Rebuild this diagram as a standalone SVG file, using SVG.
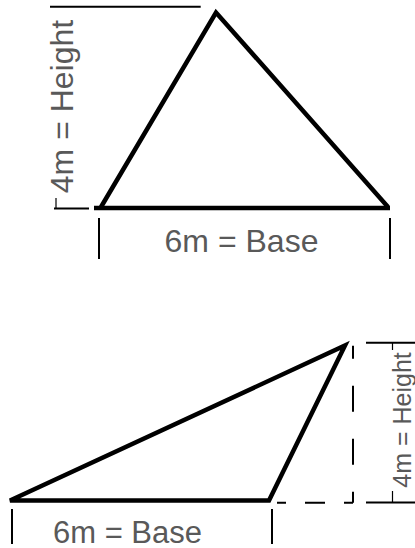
<svg xmlns="http://www.w3.org/2000/svg" width="415" height="548" viewBox="0 0 415 548">
  <style>
    .tri { fill: none; stroke: #000; stroke-width: 4.5; stroke-linejoin: miter; }
    .dim { stroke: #000; stroke-width: 2; fill: none; }
    .tick { stroke: #000; stroke-width: 2; }
    .faint { stroke: #000; stroke-width: 1.2; }
    .lbl { font-family: "Liberation Sans", Arial, sans-serif; fill: #595959; text-anchor: middle; }
  </style>
  <rect width="415" height="548" fill="#fff"/>

  <g id="top-triangle">
    <line class="tri" x1="94" y1="208" x2="390" y2="208"/>
    <path class="tri" d="M101 207 L216 12.5 L388 207"/>
  </g>

  <g id="top-dimensions">
    <line class="dim" x1="50" y1="6.7" x2="200.7" y2="6.7"/>
    <line class="dim" x1="54" y1="208.5" x2="89" y2="208.5"/>
    <line class="faint" x1="56" y1="198" x2="56" y2="208"/>
    <line class="tick" x1="99" y1="218" x2="99" y2="259"/>
    <line class="tick" x1="390" y1="218" x2="390" y2="259"/>
    <text class="lbl" font-size="32" x="241.5" y="251.7">6m = Base</text>
    <text class="lbl" font-size="32" transform="translate(73,106.5) rotate(-90)">4m = Height</text>
  </g>

  <g id="bottom-triangle">
    <path class="tri" d="M10 500.5 L269 500.5 L345 345.5 Z"/>
  </g>

  <g id="bottom-dimensions">
    <line class="dim" x1="353" y1="345.7" x2="353" y2="502.7" stroke-dasharray="26 27" stroke-dashoffset="13"/>
    <line class="dim" x1="353" y1="502.7" x2="277" y2="502.7" stroke-dasharray="20 19" stroke-dashoffset="11"/>
    <line class="dim" x1="366" y1="342.7" x2="415" y2="342.7"/>
    <line class="dim" x1="366" y1="502.5" x2="415" y2="502.5"/>
    <line class="faint" x1="392.5" y1="343" x2="392.5" y2="350"/>
    <line class="faint" x1="392.5" y1="491" x2="392.5" y2="502"/>
    <line class="tick" x1="12" y1="509" x2="12" y2="544"/>
    <line class="tick" x1="272" y1="509" x2="272" y2="544"/>
    <text class="lbl" font-size="31" x="127.5" y="542.5">6m = Base</text>
    <text class="lbl" font-size="25" transform="translate(411,420) rotate(-90)">4m = Height</text>
  </g>
</svg>
